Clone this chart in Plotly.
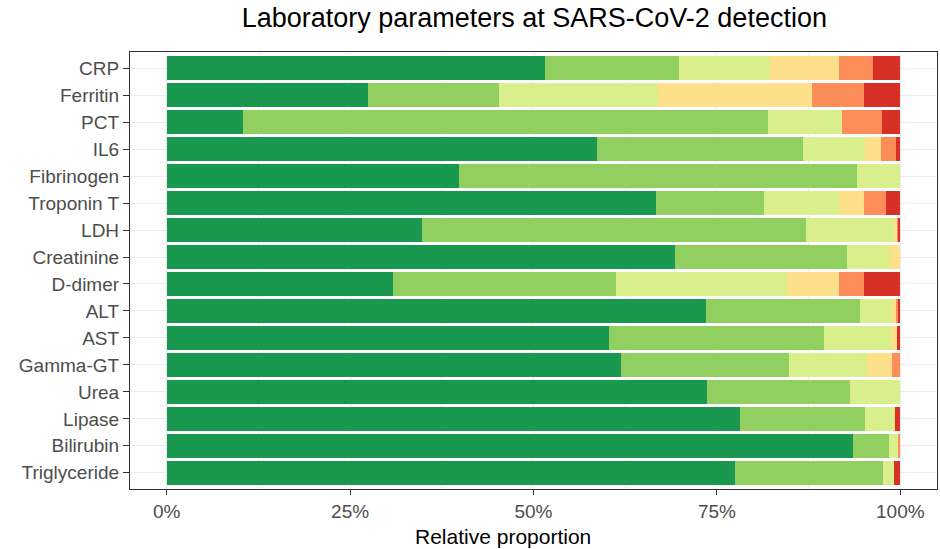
import plotly.graph_objects as go

categories = ["CRP", "Ferritin", "PCT", "IL6", "Fibrinogen", "Troponin T", "LDH",
              "Creatinine", "D-dimer", "ALT", "AST", "Gamma-GT", "Urea", "Lipase",
              "Bilirubin", "Triglyceride"]

# Relative proportion (%) of each category level, from normal to most abnormal
level1 = [51.6, 27.5, 10.4, 58.7, 39.9, 66.7, 34.8, 69.3, 30.9, 73.5, 60.3, 61.9, 73.6, 78.1, 93.6, 77.5]
level2 = [18.2, 17.8, 71.5, 28.1, 54.2, 14.7, 52.4, 23.4, 30.3, 21.0, 29.3, 22.9, 19.5, 17.1, 4.9, 20.2]
level3 = [12.5, 21.7, 10.2, 8.4, 5.9, 10.3, 11.9, 5.9, 23.3, 4.3, 9.1, 10.7, 6.9, 3.8, 1.2, 1.4]
level4 = [9.3, 20.9, 0.0, 2.1, 0.0, 3.3, 0.5, 1.4, 7.1, 0.6, 0.9, 3.3, 0.0, 0.3, 0.0, 0.0]
level5 = [4.7, 7.1, 5.4, 2.1, 0.0, 3.0, 0.1, 0.0, 3.4, 0.4, 0.0, 1.2, 0.0, 0.0, 0.3, 0.0]
level6 = [3.7, 5.0, 2.5, 0.6, 0.0, 2.0, 0.3, 0.0, 5.0, 0.2, 0.4, 0.0, 0.0, 0.7, 0.0, 0.9]

series = [level1, level2, level3, level4, level5, level6]
series_names = ["Level 1", "Level 2", "Level 3", "Level 4", "Level 5", "Level 6"]
colors = ["#1a9850", "#91cf60", "#d9ef8b", "#fee08b", "#fc8d59", "#d73027"]

x_ticks = [0, 25, 50, 75, 100]
x_tick_labels = ["0%", "25%", "50%", "75%", "100%"]

fig = go.Figure()
for name, vals, col in zip(series_names, series, colors):
    fig.add_trace(go.Bar(
        y=categories, x=vals, name=name, orientation="h",
        marker=dict(color=col, line=dict(width=0)),
        showlegend=False,
    ))

font_family = "Liberation Sans, Arial, sans-serif"

fig.update_layout(
    width=940, height=549,
    barmode="stack", bargap=0.1,
    plot_bgcolor="white", paper_bgcolor="white",
    margin=dict(l=130, r=3, t=52, b=60),
    font=dict(family=font_family, color="#4d4d4d"),
    title=dict(text="Laboratory parameters at SARS-CoV-2 detection",
               x=0.501, xref="paper", xanchor="center",
               y=1 - 18 / 549, yref="container", yanchor="middle",
               font=dict(size=27, color="#000000", family=font_family)),
    xaxis=dict(
        range=[-5, 105], tickvals=x_ticks, ticktext=x_tick_labels,
        showgrid=True, gridcolor="#ebebeb", gridwidth=1,
        minor=dict(dtick=12.5, tick0=0, showgrid=True, gridcolor="#eeeeee", gridwidth=0.8, ticks=""),
        ticks="outside", ticklen=5, tickcolor="#333333", tickwidth=1.2,
        tickfont=dict(size=19, color="#4d4d4d"),
        showline=True, linecolor="#333333", linewidth=1.2, mirror=True,
        zeroline=False, automargin=False,
    ),
    yaxis=dict(
        type="category", categoryorder="array", categoryarray=categories,
        range=[15.6, -0.6],
        showgrid=True, gridcolor="#ebebeb", gridwidth=1,
        ticks="outside", ticklen=6, tickcolor="#333333", tickwidth=1.2,
        tickfont=dict(size=19, color="#4d4d4d"),
        showline=True, linecolor="#333333", linewidth=1.2, mirror=True,
        zeroline=False, automargin=False,
    ),
    annotations=[dict(
        text="Relative proportion", xref="paper", yref="paper",
        x=(503 - 130) / 807, y=(489 - 536) / 437,
        xanchor="center", yanchor="middle", showarrow=False,
        font=dict(size=21, color="#000000", family=font_family),
    )],
)

fig.write_html("out.html", config={"displayModeBar": False},
               post_script="document.body.style.margin='0';")
